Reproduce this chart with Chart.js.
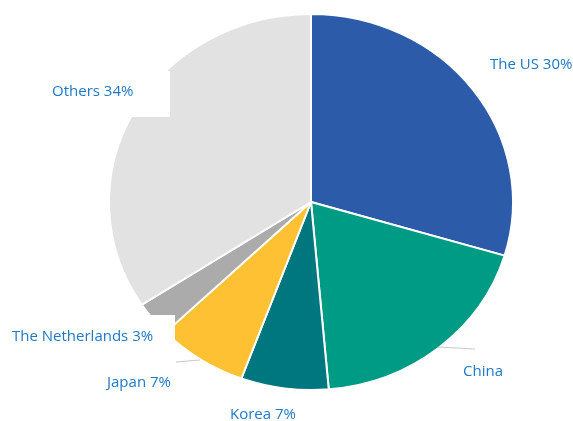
<!DOCTYPE html>
<html>
<head>
<meta charset="utf-8">
<script src="https://cdn.jsdelivr.net/npm/chart.js@4/dist/chart.umd.min.js"></script>
<style>
html,body{margin:0;padding:0;background:#fff;}
#wrap{width:573px;height:421px;position:relative;}
</style>
</head>
<body>
<div id="wrap"><canvas id="c" width="573" height="421"></canvas></div>
<script>
const categories = ["The US", "China", "Korea", "Japan", "The Netherlands", "Others"];
const shares = [29.6, 19.0, 7.0, 7.2, 3.0, 34.2];
const labelTexts = ["The US 30%", "China", "Korea 7%", "Japan 7%", "The Netherlands 3%", "Others 34%"];
const sliceColors = ["#2B5BA9", "#009B84", "#00767E", "#FFC134", "#ABABAB", "#E2E2E2"];

// label anchor positions (layout only)
const labelPos = [
  {x: 490, y: 65},
  {x: 463, y: 372},
  {x: 230, y: 415},
  {x: 107, y: 383},
  {x: 12, y: 337},
  {x: 52, y: 92}
];
const whiteBoxes = [
  {x: 30, y: 71, w: 140, h: 46},
  {x: 0, y: 315, w: 175, h: 46},
  {x: 444, y: 351, w: 110, h: 46}
];
const Y_SQUASH = 188 / 202;

const squashPlugin = {
  id: 'squash',
  beforeDatasetsDraw(chart) {
    const meta = chart.getDatasetMeta(0);
    const a = meta.data[0];
    const ctx = chart.ctx;
    ctx.save();
    ctx.translate(a.x, a.y);
    ctx.scale(1, Y_SQUASH);
    ctx.translate(-a.x, -a.y);
  },
  afterDatasetsDraw(chart) {
    chart.ctx.restore();
  }
};

const labelPlugin = {
  id: 'labels',
  afterDraw(chart) {
    const ctx = chart.ctx;
    ctx.save();
    // faint shadow lines
    ctx.strokeStyle = 'rgba(150,150,150,0.5)';
    ctx.lineWidth = 1.2;
    ctx.beginPath(); ctx.moveTo(438, 347); ctx.lineTo(475, 349); ctx.stroke();
    ctx.beginPath(); ctx.moveTo(176, 362); ctx.lineTo(200, 360); ctx.stroke();
    ctx.fillStyle = '#ffffff';
    whiteBoxes.forEach(b => ctx.fillRect(b.x, b.y, b.w, b.h));
    ctx.fillStyle = '#1E78C6';
    ctx.font = '15px "Open Sans"';
    ctx.textAlign = 'left';
    ctx.textBaseline = 'middle';
    labelTexts.forEach((t, i) => ctx.fillText(t, labelPos[i].x, labelPos[i].y));
    ctx.restore();
  }
};

new Chart(document.getElementById('c'), {
  type: 'pie',
  data: {
    labels: categories,
    datasets: [{
      data: shares,
      backgroundColor: sliceColors,
      borderColor: '#ffffff',
      borderWidth: 2,
      radius: 202
    }]
  },
  options: {
    responsive: false,
    animation: false,
    layout: {padding: {left: 109, right: 60, top: 0, bottom: 17}},
    plugins: {
      legend: {display: false},
      tooltip: {enabled: false}
    }
  },
  plugins: [squashPlugin, labelPlugin]
});
</script>
</body>
</html>
